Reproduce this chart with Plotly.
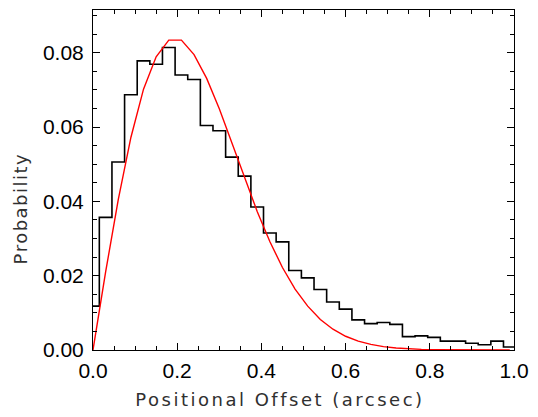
import plotly.graph_objects as go

# Histogram bin centres (arcsec) and probabilities
bin_centers = [0.00, 0.03, 0.06, 0.09, 0.12, 0.15, 0.18, 0.21, 0.24, 0.27,
               0.30, 0.33, 0.36, 0.39, 0.42, 0.45, 0.48, 0.51, 0.54, 0.57,
               0.60, 0.63, 0.66, 0.69, 0.72, 0.75, 0.78, 0.81, 0.84, 0.87,
               0.90, 0.93, 0.96, 0.99]
hist_prob = [0.0118, 0.0357, 0.0506, 0.0687, 0.0778, 0.0769, 0.0814, 0.0740,
             0.0728, 0.0604, 0.0590, 0.0519, 0.0468, 0.0385, 0.0315, 0.0291,
             0.0214, 0.0194, 0.0163, 0.0129, 0.0110, 0.0081, 0.0071, 0.0074,
             0.0069, 0.0036, 0.0038, 0.0034, 0.0024, 0.0024, 0.0018, 0.0014,
             0.0024, 0.0008]
# Model curve (red) sampled at the bin centres
model_prob = [0.0, 0.0210, 0.0405, 0.0572, 0.0702, 0.0789, 0.0834, 0.0834,
              0.0795, 0.0731, 0.0649, 0.0557, 0.0462, 0.0373, 0.0292, 0.0222,
              0.0164, 0.0118, 0.0082, 0.0056, 0.0037, 0.0024, 0.0015, 0.0009,
              0.00055, 0.00032, 0.00018, 0.0001, 0.00005, 0.00003, 0.00001,
              0.0, 0.0, 0.0]

x_ticks = [0.0, 0.2, 0.4, 0.6, 0.8, 1.0]
y_ticks = [0.00, 0.02, 0.04, 0.06, 0.08]
x_title = "Positional Offset (arcsec)"
y_title = "Probability"

# build step outline (IDL psym=10 style: steps at bin midpoints)
half = (bin_centers[1] - bin_centers[0]) / 2.0
sx, sy = [], []
for c, v in zip(bin_centers, hist_prob):
    sx.append(max(c - half, 0.0))
    sy.append(v)
sx.append(min(bin_centers[-1] + half, 1.0))
sy.append(hist_prob[-1])

fig = go.Figure()
fig.add_trace(go.Scatter(x=sx, y=sy, mode="lines", line_shape="hv",
                         line=dict(color="black", width=1.6), showlegend=False))
fig.add_trace(go.Scatter(x=bin_centers, y=model_prob, mode="lines",
                         line=dict(color="#ff0000", width=1.4), showlegend=False))

tickfont = dict(family="Liberation Sans, Arial, sans-serif", size=21, color="black")
titlefont = dict(family="DejaVu Sans, sans-serif", size=18, color="#303030")

fig.update_layout(
    width=538, height=417,
    margin=dict(l=93, r=18, t=9, b=67),
    plot_bgcolor="white", paper_bgcolor="white",
    xaxis=dict(range=[0, 1.0], tickvals=x_ticks, ticktext=[f"{t:.1f}" for t in x_ticks],
               ticks="inside", ticklen=7, tickwidth=1, tickcolor="black",
               minor=dict(dtick=0.05, ticks="inside", ticklen=4, tickcolor="black", tickwidth=1),
               showline=True, linecolor="black", linewidth=1, mirror="allticks",
               showgrid=False, zeroline=False, tickfont=tickfont, ticklabelstandoff=2),
    yaxis=dict(range=[0, 0.0915], tickvals=y_ticks, ticktext=[f"{t:.2f}" for t in y_ticks],
               ticks="inside", ticklen=7, tickwidth=1, tickcolor="black",
               minor=dict(dtick=0.005, ticks="inside", ticklen=4, tickcolor="black", tickwidth=1),
               showline=True, linecolor="black", linewidth=1, mirror="allticks",
               showgrid=False, zeroline=False, tickfont=tickfont, ticklabelstandoff=4),
    annotations=[
        dict(text=x_title, xref="paper", yref="paper", x=0.444, y=-0.147,
             xanchor="center", yanchor="middle", showarrow=False, font=titlefont,
             name="xt"),
        dict(text=y_title, xref="paper", yref="paper", x=-0.172, y=0.416,
             xanchor="center", yanchor="middle", showarrow=False, font=titlefont,
             textangle=-90, name="yt"),
    ],
)

post = """
var gd = document.getElementById('{plot_id}');
function spaceTitles(){
  var t = gd.querySelectorAll('.annotation-text');
  t.forEach(function(el){
    var s = el.textContent;
    el.style.letterSpacing = (s.indexOf('Positional') >= 0) ? '2.5px' : '1.5px';
  });
}
spaceTitles();
gd.on && gd.on('plotly_afterplot', spaceTitles);
"""
fig.write_html("out.html", post_script=post)
